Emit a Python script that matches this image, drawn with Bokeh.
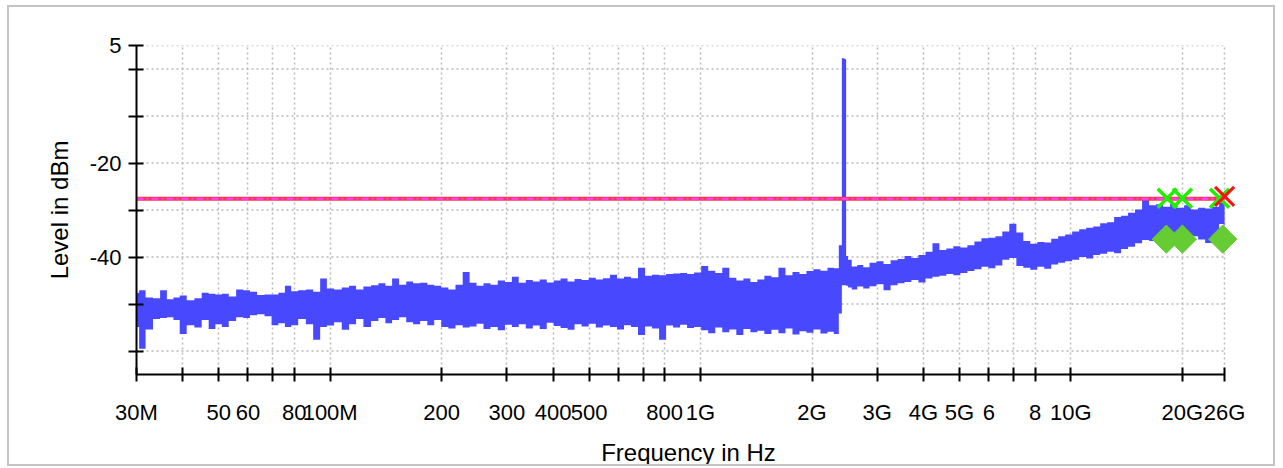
from bokeh.plotting import figure
from bokeh.models import Range1d, FixedTicker, ColumnDataSource
from bokeh.embed import file_html
from bokeh.resources import INLINE

# ---- spectrum trace (min / max envelope) ----
freq_mhz = [30, 31, 32.5, 34, 35.5, 37, 38.5, 40, 42, 44, 46, 48, 50, 52, 54.5, 57, 59.5, 62, 65, 68,
            71, 74, 77, 80, 84, 88, 92, 96, 100, 105, 110, 115, 120, 126, 132, 138, 144, 150, 157, 164,
            171, 179, 187, 195, 204, 213, 223, 233, 243, 254, 265, 277, 290, 303, 316, 330, 345, 360, 376, 393,
            410, 428, 447, 467, 488, 510, 533, 557, 582, 608, 635, 663, 693, 724, 756, 790, 825, 862, 900, 940,
            982, 1026, 1072, 1120, 1170, 1222, 1277, 1334, 1393, 1455, 1520, 1588, 1659, 1733, 1810, 1890, 1974, 2062, 2154, 2250,
            2330, 2395, 2420, 2440, 2460, 2485, 2520, 2600, 2700, 2800, 2920, 3050, 3190, 3330, 3480, 3630, 3790, 3960, 4140, 4320,
            4510, 4710, 4920, 5140, 5370, 5610, 5860, 6120, 6390, 6670, 6970, 7280, 7600, 7940, 8290, 8660, 9040, 9440, 9860, 10300,
            10760, 11240, 11740, 12260, 12800, 13370, 13960, 14580, 15230, 15910, 16620, 17360, 18130, 18940, 19780, 20660, 21580, 22540, 23540, 24590,
            25680, 26000]
level_max_dbm = [-47.6, -47.1, -48.6, -48.8, -47.1, -49.0, -48.6, -48.2, -49.2, -48.8, -47.6, -47.8, -48.0, -47.8, -48.4, -46.9, -47.1, -47.4, -48.1, -48.0,
                 -48.0, -47.6, -46.1, -47.3, -47.1, -46.9, -47.4, -44.6, -46.7, -46.9, -46.5, -46.1, -46.9, -46.3, -46.0, -45.6, -46.1, -44.6, -45.9, -45.2,
                 -45.6, -45.5, -45.9, -46.1, -46.5, -46.9, -45.9, -43.2, -45.5, -46.1, -45.6, -45.9, -45.0, -45.3, -44.2, -45.5, -44.9, -45.2, -44.8, -45.4,
                 -45.0, -44.6, -45.2, -44.7, -44.9, -44.4, -44.8, -44.5, -43.8, -44.6, -44.2, -44.5, -42.3, -44.0, -43.8, -43.9, -43.6, -43.5, -43.4, -43.6,
                 -43.3, -41.9, -42.9, -43.4, -42.3, -44.4, -45.0, -44.6, -45.3, -44.8, -44.0, -44.3, -42.3, -43.9, -43.2, -43.6, -43.0, -42.6, -42.9, -42.3,
                 -42.4, -37.5, 2.3, 2.3, 2.1, -39.8, -40.6, -42.0, -41.7, -42.2, -41.2, -40.9, -41.5, -40.7, -40.4, -39.8, -40.2, -39.6, -38.9, -37.1,
                 -38.5, -38.2, -37.7, -38.0, -37.5, -36.7, -36.0, -35.9, -35.6, -34.6, -32.9, -34.8, -36.6, -37.2, -36.8, -36.9, -36.1, -35.6, -35.2, -34.6,
                 -34.1, -33.8, -33.5, -32.8, -32.6, -31.5, -31.2, -30.6, -29.9, -27.7, -29.0, -28.8, -29.3, -28.6, -29.5, -29.0, -29.9, -29.5, -29.7, -29.3,
                 -28.4, -28.6]
level_min_dbm = [-54.9, -59.5, -55.4, -53.2, -53.0, -52.8, -53.4, -56.4, -54.5, -55.0, -53.4, -55.3, -54.3, -54.9, -53.6, -52.8, -53.0, -52.4, -52.2, -52.6,
                 -54.5, -54.1, -54.9, -54.5, -53.2, -54.3, -57.6, -54.9, -54.6, -53.9, -55.5, -54.3, -53.2, -54.9, -53.6, -53.0, -54.1, -53.4, -52.8, -53.9,
                 -54.3, -53.6, -54.5, -53.4, -54.9, -55.2, -54.5, -55.0, -54.8, -54.2, -55.3, -54.9, -55.6, -54.4, -54.9, -54.3, -55.2, -54.6, -55.3, -54.0,
                 -54.7, -55.1, -55.5, -54.3, -54.8, -54.2, -55.0, -54.6, -54.9, -55.4, -54.5, -54.9, -56.6, -54.8, -55.2, -57.6, -54.6, -55.0, -54.4, -55.1,
                 -54.9, -55.6, -56.2, -55.0, -56.0, -55.4, -56.6, -55.3, -56.0, -55.7, -56.4, -55.5, -56.2, -55.2, -56.5, -55.8, -56.1, -55.4, -56.3, -55.9,
                 -56.4, -52.0, -46.0, -46.0, -46.0, -46.1, -46.5, -46.9, -46.3, -46.7, -46.2, -45.8, -47.1, -46.0, -45.6, -45.3, -44.9, -45.4, -44.6, -44.2,
                 -44.0, -43.6, -43.9, -43.4, -43.0, -42.6, -42.1, -42.4, -41.8, -40.6, -40.2, -41.9, -42.3, -42.7, -42.1, -42.5, -41.6, -41.2, -40.9, -40.6,
                 -40.0, -40.3, -39.6, -39.3, -38.9, -39.2, -38.3, -37.8, -37.1, -36.4, -36.6, -35.7, -35.0, -36.2, -35.4, -36.0, -35.6, -36.3, -37.0, -35.4,
                 -33.0, -33.3]

# ---- limit line ----
limit_freq_mhz = [30, 26000]
limit_dbm = [-27.6, -27.6]

# ---- markers ----
peak_freq_mhz = [18200, 20000, 25200]
peak_dbm = [-27.5, -27.5, -27.5]
peak_fail_freq_mhz = [26000]
peak_fail_dbm = [-27.1]
qp_freq_mhz = [18100, 20000, 25700]
qp_dbm = [-36.2, -36.2, -36.2]

# ---- axes ----
x_ticks_hz = [30000000, 40000000, 50000000, 60000000, 70000000, 80000000, 100000000,
              200000000, 300000000, 400000000, 500000000, 600000000, 700000000, 800000000,
              1000000000, 2000000000, 3000000000, 4000000000, 5000000000, 6000000000,
              7000000000, 8000000000, 10000000000, 20000000000, 26000000000]
x_tick_labels = ["30M", "", "50", "60", "", "80", "100M",
                 "200", "300", "400", "500", "", "", "800",
                 "1G", "2G", "3G", "4G", "5G", "6",
                 "", "8", "10G", "20G", "26G"]
y_ticks = [5, 0, -10, -20, -30, -40, -50, -60]
y_tick_labels = ["5", "", "", "-20", "", "-40", "", ""]
x_start_hz, x_stop_hz = 30e6, 26e9

FONT = "Liberation Sans"

# frame runs a little past 26 GHz so that markers at the right edge are not cut off
p = figure(width=1268, height=461, x_axis_type="log",
           x_range=Range1d(x_start_hz, 28.7e9), y_range=Range1d(-65, 5),
           output_backend="svg", toolbar_location=None, title=None,
           min_border_left=127, min_border_right=37, min_border_top=38, min_border_bottom=86)
p.outline_line_color = None
p.background_fill_color = "white"
p.border_fill_color = "white"
# light grey frame around the whole chart
p.styles = {"border": "2px solid #c4c4c4", "margin": "5px 0px 0px 7px"}

# grid (horizontal lines stop at 26 GHz)
p.ygrid.visible = False
p.xgrid.ticker = FixedTicker(ticks=x_ticks_hz)
p.xgrid.grid_line_color = "#b8b8b8"
p.xgrid.grid_line_dash = "2 3"
p.xgrid.grid_line_width = 1.5
p.segment(x0=[x_start_hz] * len(y_ticks), x1=[x_stop_hz] * len(y_ticks), y0=y_ticks, y1=y_ticks,
          line_color="#b8b8b8", line_dash="2 3", line_width=1.5)

src = ColumnDataSource(dict(f=[v * 1e6 for v in freq_mhz], hi=level_max_dbm, lo=level_min_dbm))
p.varea_step(x="f", y1="lo", y2="hi", step_mode="center", source=src, fill_color="#4848ff")

lf = [v * 1e6 for v in limit_freq_mhz]
p.line(lf, limit_dbm, line_color="#ff3355", line_width=4)
p.line(lf, limit_dbm, line_color="#ff44ff", line_width=2, line_dash="7 3 2 3")

p.scatter([v * 1e6 for v in qp_freq_mhz], qp_dbm, marker="square", angle=0.785398, size=20,
          fill_color="#66cc33", line_color="#66cc33")
p.scatter([v * 1e6 for v in peak_freq_mhz], peak_dbm, marker="x", size=27,
          line_color="#22ee00", line_width=3.5)
p.scatter([v * 1e6 for v in peak_fail_freq_mhz], peak_fail_dbm, marker="x", size=27,
          line_color="#ff1010", line_width=3)

xa = p.xaxis[0]
xa.ticker = FixedTicker(ticks=x_ticks_hz)
xa.major_label_overrides = {t: s for t, s in zip(x_ticks_hz, x_tick_labels)}
xa.bounds = (x_start_hz, x_stop_hz)
ya = p.yaxis[0]
ya.ticker = FixedTicker(ticks=y_ticks)
ya.major_label_overrides = {t: s for t, s in zip(y_ticks, y_tick_labels)}

for ax in (xa, ya):
    ax.axis_line_width = 2
    ax.axis_line_color = "black"
    ax.major_tick_line_width = 2
    ax.major_tick_line_color = "black"
    ax.minor_tick_line_color = None
    ax.major_label_text_font = FONT
    ax.major_label_text_font_size = "22px"
    ax.major_label_text_color = "black"
    ax.axis_label_text_font = FONT
    ax.axis_label_text_font_size = "24px"
    ax.axis_label_text_font_style = "normal"
    ax.axis_label_text_color = "black"

xa.axis_label = "Frequency in Hz"
xa.major_tick_in = 7
xa.major_tick_out = 7
xa.major_label_standoff = 18
xa.axis_label_standoff = 11

ya.axis_label = "Level in dBm"
ya.major_tick_in = 7
ya.major_tick_out = 8
ya.major_label_standoff = 7
ya.axis_label_standoff = 14

open("out.html", "w").write(file_html(p, INLINE))
